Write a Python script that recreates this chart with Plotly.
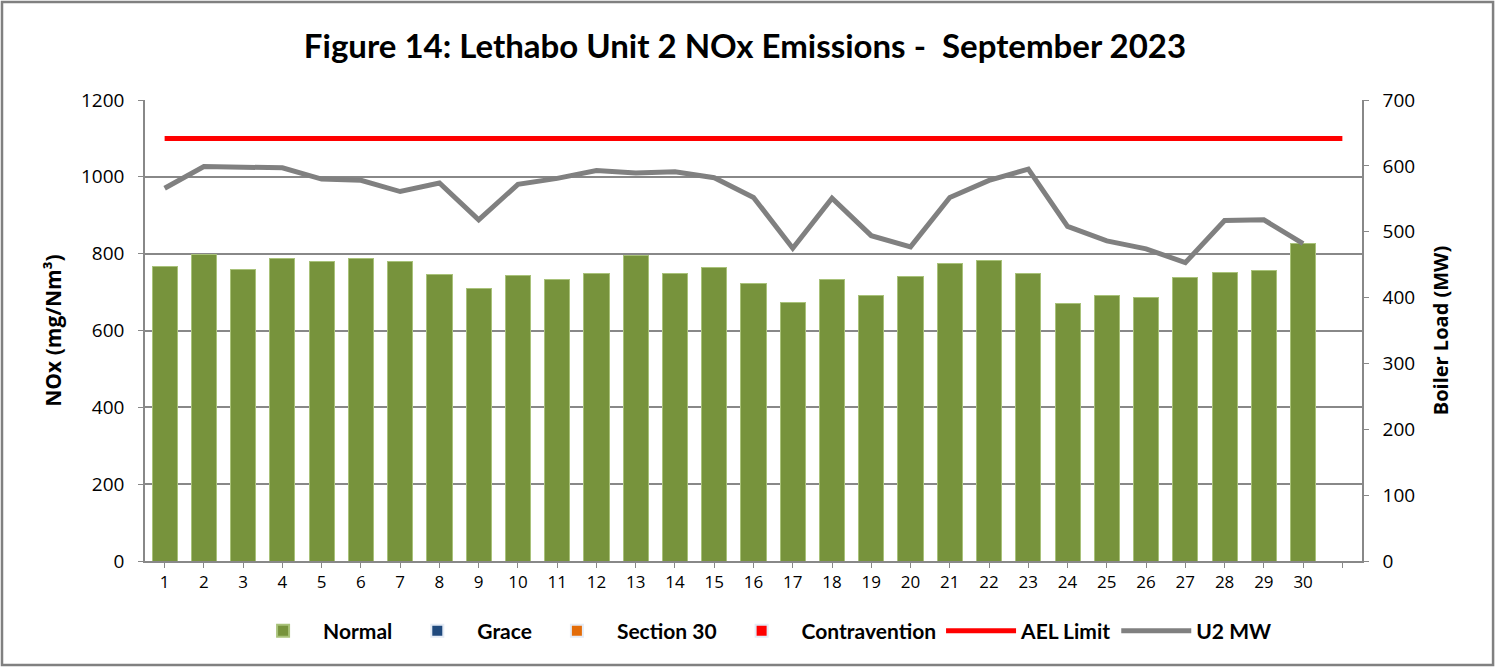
import plotly.graph_objects as go

title = "Figure 14: Lethabo Unit 2 NOx Emissions -  September 2023"
days = list(range(1, 31))
nox_normal = [766, 798, 760, 788, 780, 788, 780, 746, 710, 743,
              734, 749, 795, 749, 765, 723, 673, 732, 690, 740,
              774, 783, 749, 669, 690, 685, 738, 752, 755, 827]
u2_mw = [566, 599, 598, 597, 580, 578, 561, 574, 518, 572,
         581, 593, 589, 591, 582, 552, 475, 551, 494, 477,
         552, 578, 595, 508, 486, 474, 453, 517, 518, 482]
ael_limit = 1100
n_slots = 31
tick_labels = [str(d) for d in days] + [""]

TITLE_FONT = "Lato, Calibri, sans-serif"
TICK_FONT = "'Open Sans', sans-serif"
slots = list(range(1, n_slots + 1))

fig = go.Figure()
fig.add_trace(go.Bar(x=days, y=nox_normal, name="Normal", marker_color="#77933C",
                     marker_line=dict(color="#a9c27a", width=1), width=0.64))
fig.add_trace(go.Bar(x=days, y=[None] * len(days), name="Grace", marker_color="#1F497D", width=0.64))
fig.add_trace(go.Bar(x=days, y=[None] * len(days), name="Section 30", marker_color="#E36C09", width=0.64))
fig.add_trace(go.Bar(x=days, y=[None] * len(days), name="Contravention", marker_color="#FF0000", width=0.64))
fig.add_trace(go.Scatter(x=slots, y=[ael_limit] * n_slots, name="AEL Limit", mode="lines",
                         line=dict(color="#FF0000", width=5)))
fig.add_trace(go.Scatter(x=days, y=u2_mw, name="U2 MW", mode="lines", yaxis="y2",
                         line=dict(color="#808080", width=5)))

fig.update_layout(
    width=1499, height=668,
    paper_bgcolor="white", plot_bgcolor="white",
    margin=dict(l=145, r=137, t=100, b=107, autoexpand=False),
    barmode="stack",
    font=dict(family=TICK_FONT, color="black", size=18),
    title=dict(text="<b>" + title + "</b>", x=0.497, xanchor="center", y=0.93, yanchor="middle",
               font=dict(size=33, family=TITLE_FONT)),
    xaxis=dict(range=[0.5, n_slots + 0.5], tickmode="array", tickvals=slots, ticktext=tick_labels,
               showgrid=False, showline=True, linecolor="#888888", linewidth=1.5,
               ticks="outside", tickcolor="#888888", ticklen=5, zeroline=False,
               tickfont=dict(size=17, family=TICK_FONT), automargin=False),
    yaxis=dict(range=[0, 1200], dtick=200, showgrid=True, gridcolor="#888888", gridwidth=1.5,
               showline=True, linecolor="#888888", linewidth=1.5, zeroline=False,
               ticks="outside", tickcolor="#888888", ticklen=5, automargin=False,
               ticklabelstandoff=10,
               title=dict(text="<b>NOx (mg/Nm³)</b>", font=dict(size=21, family=TICK_FONT), standoff=14),
               tickfont=dict(size=19, family=TICK_FONT)),
    yaxis2=dict(range=[0, 700], dtick=100, overlaying="y", side="right", showgrid=False,
                showline=True, linecolor="#888888", linewidth=1.5, zeroline=False,
                ticks="outside", tickcolor="#888888", ticklen=5, automargin=False,
                ticklabelstandoff=10,
                title=dict(text="<b>Boiler Load (MW)</b>", font=dict(size=20, family=TICK_FONT), standoff=20),
                tickfont=dict(size=19, family=TICK_FONT)),
    legend=dict(orientation="h", x=0.505, xanchor="center", y=-0.152, yanchor="middle",
                font=dict(size=21, family=TITLE_FONT), itemwidth=70, traceorder="normal",
                itemsizing="constant"),
    showlegend=True,
)

# outer chart border
fig.add_shape(type="rect", xref="paper", yref="paper",
              x0=-0.1175, x1=1.1077, y0=-0.2256, y1=1.2126,
              line=dict(color="#808080", width=2.5), fillcolor="rgba(0,0,0,0)", layer="below")

fig.for_each_trace(lambda t: t.update(name="<b>" + t.name + "</b>"))

fig.write_html("out.html", config={"displayModeBar": False},
               post_script="document.body.style.margin='0';document.body.style.overflow='hidden';")
